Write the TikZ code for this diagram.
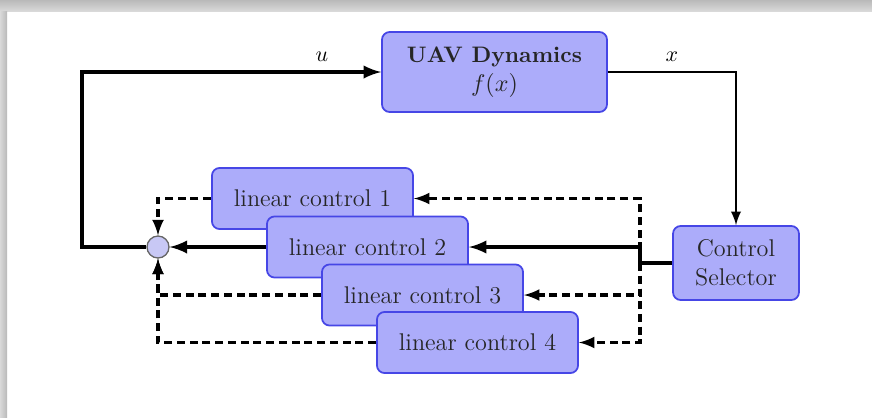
\documentclass[tikz,border=0pt]{standalone}
\usetikzlibrary{arrows}

\tikzset{every picture/.style={line width=0.75pt}}
\definecolor{boxfill}{RGB}{172,172,250}
\definecolor{boxline}{RGB}{70,70,230}
\definecolor{sumfill}{RGB}{200,200,245}
\tikzset{
  ctrlbox/.style={draw=boxline, fill=boxfill, rounded corners=3.5pt, line width=0.8pt, text=black!85, align=center, inner sep=0pt, font=\fontsize{11}{13}\selectfont},
  linbox/.style={ctrlbox, minimum width=91.5pt, minimum height=27.8pt},
  sumnode/.style={circle, draw=gray!80!black, fill=sumfill, line width=0.6pt, minimum size=10pt, inner sep=0pt},
  mainline/.style={line width=1.7pt, -latex},
  thinline/.style={line width=1.1pt, -latex},
  dashline/.style={line width=1.4pt, dash pattern=on 3.6pt off 2.2pt, -latex}
}

\begin{document}
\begin{tikzpicture}[x=0.455pt,y=0.455pt,yscale=-1,xscale=1]
\useasboundingbox (0,0) rectangle (872,417);

%Shape: frame shadow top
\shade [top color=gray!55, bottom color=gray!30] (0,0) rectangle (872,11);
%Shape: frame shadow left
\shade [left color=gray!30, right color=gray!55] (0,11) rectangle (7,417);

%Shape: Boxes
\node (uav) at (494.5,72) [ctrlbox, minimum width=102.4pt, minimum height=36.4pt] {{\fontsize{10.2}{12}\selectfont\textbf{UAV Dynamics}}\\$f(x)$};
\node (cs) at (736,263) [ctrlbox, minimum width=57.3pt, minimum height=33.7pt] {Control\\Selector};
\node (lc1) at (312.5,198.5) [linbox] {linear control 1};
\node (lc2) at (367.5,247) [linbox] {linear control 2};
\node (lc3) at (422.5,295) [linbox] {linear control 3};
\node (lc4) at (477.5,342.5) [linbox] {linear control 4};
%Shape: Circle
\node (sum) at (158,247) [sumnode] {};

%Straight Lines
\coordinate (fb) at (82,247);
\coordinate (split) at (640,263);
\draw [mainline] (sum.west) -- (fb) |- (uav.west);
\draw [thinline] (uav.east) -| (cs.north);
\draw [mainline] (cs.west) -- (split) |- (lc2.east);
\draw [mainline] (lc2.west) -- (sum.east);
%Dashed Lines
\draw [dashline] (split) |- (lc1.east);
\draw [dashline] (split) |- (lc3.east);
\draw [dashline] (split) |- (lc4.east);
\draw [dashline] (lc1.west) -| (sum.north);
\draw [dashline] (lc3.west) -| (sum.south);
\draw [dashline] (lc4.west) -| (sum.south);

% Text Node
\node (ulabel) at (322,57) {$u$};
% Text Node
\node (xlabel) at (672,57) {$x$};

\end{tikzpicture}
\end{document}
